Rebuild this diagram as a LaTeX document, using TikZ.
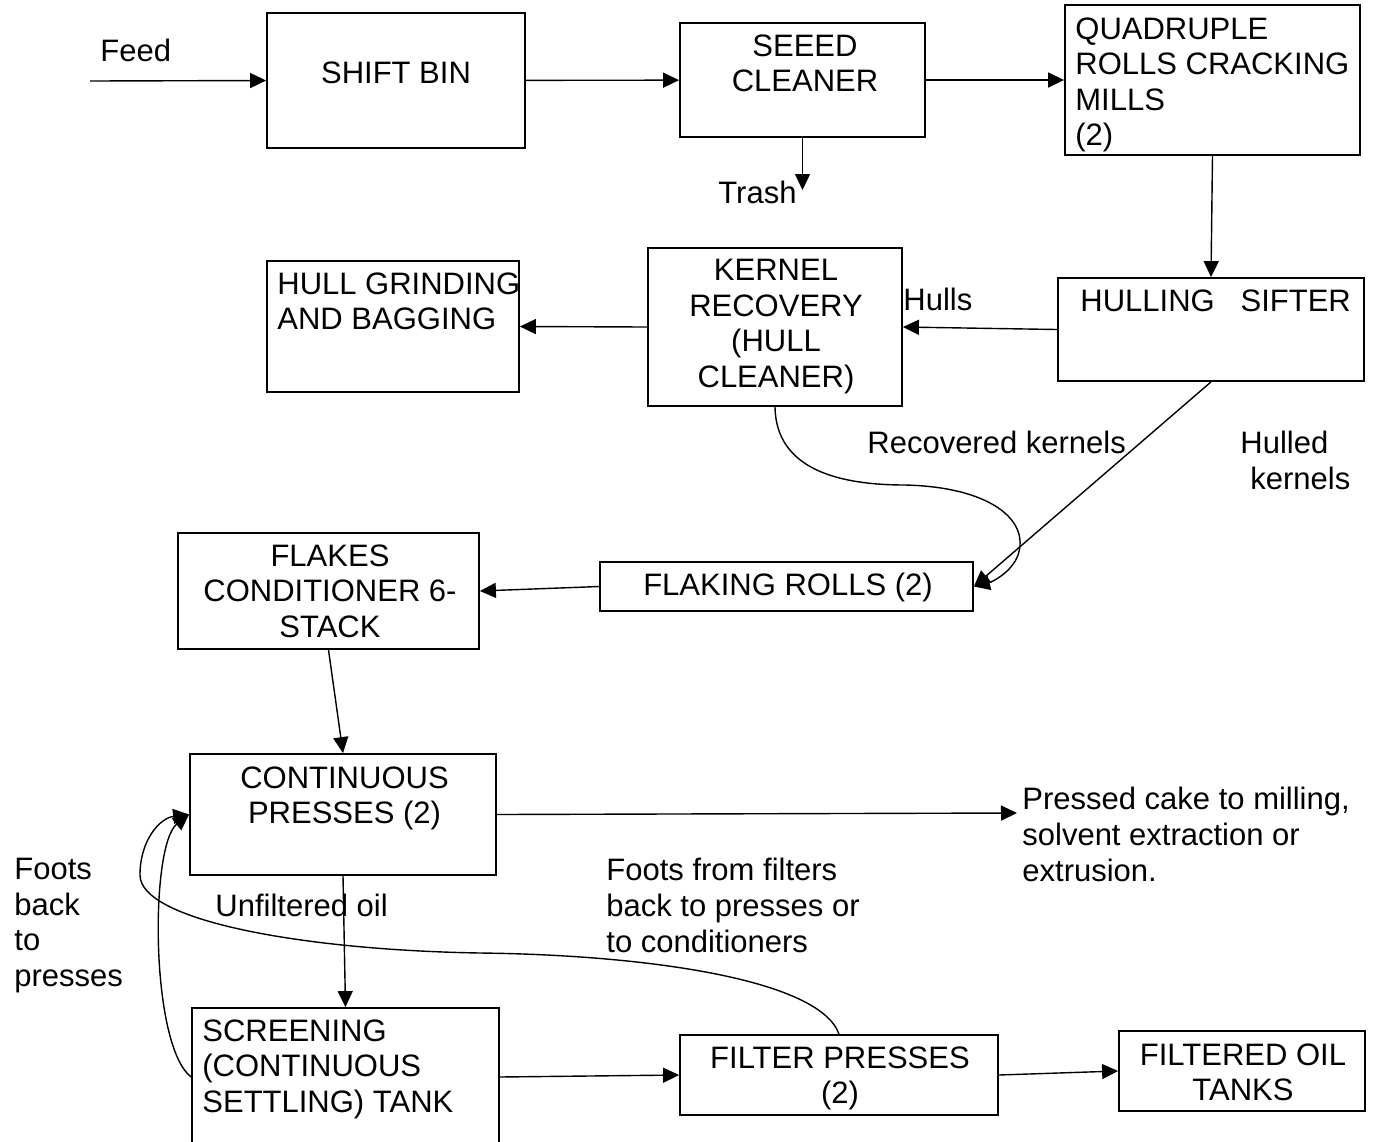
\documentclass[tikz,border=0pt]{standalone}
\usepackage{fontspec}
\setmainfont{Liberation Sans}
\usetikzlibrary{arrows.meta}

\begin{document}
\begin{tikzpicture}[x=0.5pt,y=-0.5pt,
  box/.style={draw,line width=0.9pt,inner sep=0pt},
  txt/.style={inner sep=0pt,font=\fontsize{15.5pt}{17.8pt}\selectfont},
  flow/.style={line width=0.7pt,-{Triangle[length=8pt,width=7.5pt]}}]
\useasboundingbox (0,0) rectangle (1373,1142);

\node[box,minimum width=129pt,minimum height=67.5pt] (shift) at (396,80.5) {};
\node[box,minimum width=122.5pt,minimum height=57pt] (seed) at (802.5,80) {};
\node[box,minimum width=147.5pt,minimum height=75pt] (quad) at (1212.5,80) {};
\node[box,minimum width=153pt,minimum height=51.5pt] (sifter) at (1211,329.5) {};
\node[box,minimum width=127pt,minimum height=79pt] (kernel) at (775,327) {};
\node[box,minimum width=126pt,minimum height=65.5pt] (hull) at (393,326.5) {};
\node[box,minimum width=186.5pt,minimum height=24.5pt] (flaking) at (786.5,586.5) {};
\node[box,minimum width=150.5pt,minimum height=58pt] (flakes) at (328.5,591) {};
\node[box,minimum width=153pt,minimum height=60.5pt] (presses) at (343,814.5) {};
\node[box,minimum width=153.5pt,minimum height=69pt] (screen) at (345.5,1077) {};
\node[box,minimum width=159pt,minimum height=40pt] (filter) at (839,1075) {};
\node[box,minimum width=123pt,minimum height=40pt] (tanks) at (1242,1071) {};

\node[txt,anchor=north west] (feedT) at (100,39) {Feed};
\node[txt,align=center,anchor=north] (shiftT) at (396,61) {SHIFT BIN};
\node[txt,align=center,anchor=north] (seedT) at (805,34) {SEEED\\CLEANER};
\node[txt,align=left,anchor=north west] (quadT) at (1075,17) {QUADRUPLE\\ROLLS CRACKING\\MILLS\\(2)};
\node[txt,anchor=north west] (trashT) at (718,181) {Trash};
\node[txt,anchor=north west] (hullsT) at (903,288) {Hulls};
\node[txt,anchor=north west] (sifterT) at (1080,289) {HULLING\ \ \ SIFTER};
\node[txt,align=center,anchor=north] (kernelT) at (776,259) {KERNEL\\RECOVERY\\(HULL\\CLEANER)};
\node[txt,align=left,anchor=north west] (hullT) at (277,272) {HULL GRINDING\\AND BAGGING};
\node[txt,anchor=north west] (recT) at (867,431) {Recovered kernels};
\node[txt,align=left,anchor=north west] (hulledT) at (1240,431) {Hulled\\\hspace*{5pt}kernels};
\node[txt,align=center,anchor=north] (flakingT) at (788,573) {FLAKING ROLLS (2)};
\node[txt,align=center,anchor=north] (flakesT) at (330,544) {FLAKES\\CONDITIONER 6-\\STACK};
\node[txt,align=center,anchor=north] (pressesT) at (344.5,766) {CONTINUOUS\\PRESSES (2)};
\node[txt,align=left,anchor=north west] (cakeT) at (1022,787) {Pressed cake to milling,\\solvent extraction or\\extrusion.};
\node[txt,anchor=north west] (oilT) at (215,894) {Unfiltered oil};
\node[txt,align=left,anchor=north west] (backT) at (14,858) {Foots\\back\\to\\presses};
\node[txt,align=left,anchor=north west] (footsT) at (606,858) {Foots from filters\\back to presses or\\to conditioners};
\node[txt,align=left,anchor=north west] (screenT) at (202,1019) {SCREENING\\(CONTINUOUS\\SETTLING) TANK};
\node[txt,align=center,anchor=north] (filterT) at (840,1046) {FILTER PRESSES\\(2)};
\node[txt,align=center,anchor=north] (tanksT) at (1243,1043) {FILTERED OIL\\TANKS};

\coordinate (feed) at (90,81);
\coordinate (trash) at (802.5,190);
\coordinate (cake) at (1017,813);

\draw[flow] (feed) -- (shift.west);
\draw[flow] (shift) -- (seed);
\draw[flow] (seed) -- (quad);
\draw[flow] (seed.south) -- (trash);
\draw[flow] (quad.south) -- (sifter.north);
\draw[flow] (sifter.west) -- (kernel.east);
\draw[flow] (kernel.west) -- (hull.east);
\draw[flow] (sifter.south) -- (flaking.east);
\draw[flow] (kernel.south) .. controls (776,470) and (840,485) .. (905,485)
  .. controls (990,487) and (1030,520) .. (1018,555)
  .. controls (1012,572) and (992,582) .. (flaking.east);
\draw[flow] (flaking.west) -- (flakes.east);
\draw[flow] (flakes.south) -- (presses.north);
\draw[flow] (presses.east) -- (cake);
\draw[flow] (presses.south) -- (screen.north);
\draw[flow] (screen.east) -- (filter.west);
\draw[flow] (filter.east) -- (tanks.west);
\draw[flow] (screen.west) .. controls (150,1045) and (150,845) .. (presses.west);
\draw[flow] (filter.north) .. controls (820,980) and (650,955) .. (480,953)
  .. controls (300,950) and (140,920) .. (140,875)
  .. controls (140,840) and (160,818) .. (presses.west);
\end{tikzpicture}
\end{document}
